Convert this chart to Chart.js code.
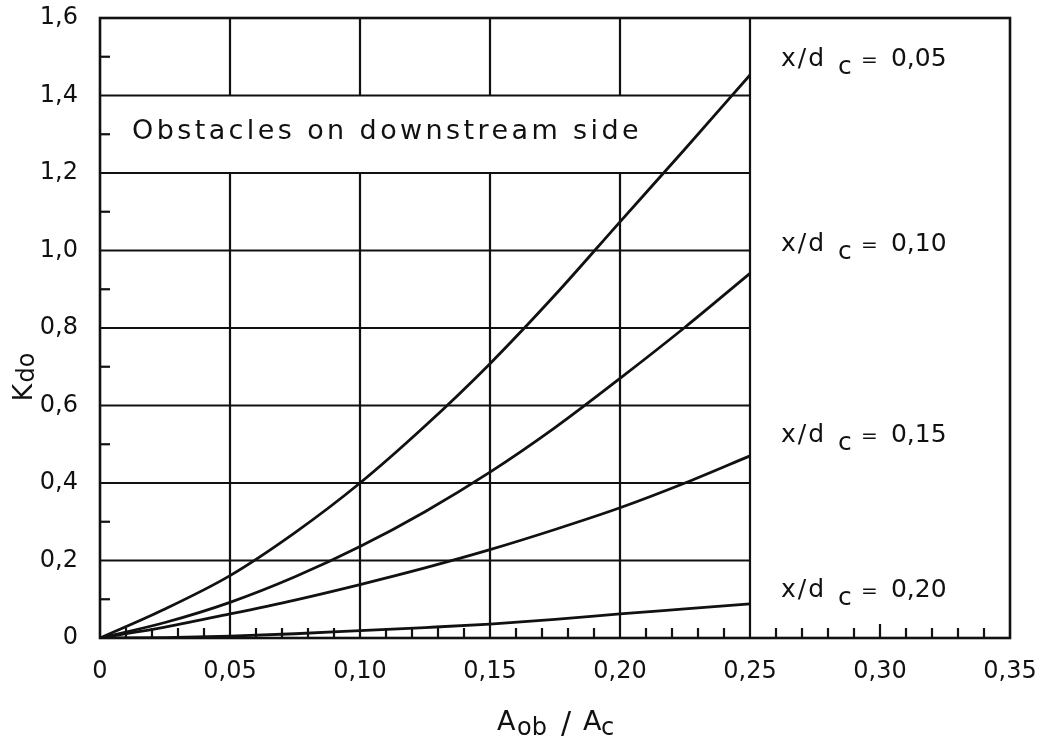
<!DOCTYPE html>
<html>
<head>
<meta charset="utf-8">
<title>Kdo</title>
<script src="https://cdn.jsdelivr.net/npm/chart.js"></script>
<style>
    html, body { margin: 0; padding: 0; background: #fff; }
    canvas { display: block; }
</style>
</head>
<body>
<canvas id="chart" width="1041" height="742"></canvas>
<script>
// Data
const ratio = [0, 0.025, 0.05, 0.075, 0.10, 0.125, 0.15, 0.175, 0.20, 0.225, 0.25];
const kdo_005 = [0, 0.075, 0.161, 0.272, 0.400, 0.547, 0.708, 0.885, 1.074, 1.262, 1.453];
const kdo_010 = [0, 0.040, 0.092, 0.158, 0.236, 0.326, 0.428, 0.543, 0.670, 0.802, 0.941];
const kdo_015 = [0, 0.028, 0.062, 0.098, 0.138, 0.181, 0.228, 0.280, 0.336, 0.400, 0.470];
const kdo_020 = [0, 0.001, 0.005, 0.011, 0.019, 0.027, 0.036, 0.048, 0.062, 0.075, 0.088];
const series = [kdo_005, kdo_010, kdo_015, kdo_020];
const series_names = ['0,05', '0,10', '0,15', '0,20'];

const x_ticks = [0, 0.05, 0.10, 0.15, 0.20, 0.25, 0.30, 0.35];
const y_ticks = [0, 0.2, 0.4, 0.6, 0.8, 1.0, 1.2, 1.4, 1.6];

// where the curve labels sit (axis units)
const label_x = 0.2619;
const label_y = [1.475, 1.0, 0.505, 0.105];

const ink = '#111';
const font = "'DejaVu Sans', sans-serif";

const fmt = (v, d) => v === 0 ? '0' : v.toFixed(d).replace('.', ',');

function line(ctx, x1, y1, x2, y2) {
    ctx.beginPath();
    ctx.moveTo(x1, y1);
    ctx.lineTo(x2, y2);
    ctx.stroke();
}

// Grid, box and frame
const gridPlugin = {
    id: 'grid',
    beforeDraw(chart) {
        const ctx = chart.ctx;
        ctx.save();
        ctx.fillStyle = '#fff';
        ctx.fillRect(0, 0, chart.width, chart.height);
        ctx.restore();
    },
    beforeDatasetsDraw(chart) {
        const {ctx, chartArea: a, scales: {x, y}} = chart;
        const xEnd = x.getPixelForValue(0.25);
        const boxLow = y.getPixelForValue(1.2);
        const boxHigh = y.getPixelForValue(1.4);
        ctx.save();
        ctx.strokeStyle = ink;
        ctx.lineWidth = 2.2;

        y_ticks.forEach(v => {
            if (v > 0 && v < 1.6) {
                const py = y.getPixelForValue(v);
                line(ctx, a.left, py, xEnd, py);
            }
        });

        x_ticks.forEach(v => {
            if (v > 0 && v < 0.25) {
                const px = x.getPixelForValue(v);
                line(ctx, px, a.bottom, px, boxLow);
                line(ctx, px, boxHigh, px, a.top);
            }
        });
        line(ctx, xEnd, a.bottom, xEnd, a.top);

        // minor ticks on bottom axis
        for (let i = 1; i < 35; i++) {
            if (i % 5 === 0 && i <= 25) continue;
            const px = x.getPixelForValue(i / 100);
            const len = (i === 30) ? 14 : 10;
            line(ctx, px, a.bottom, px, a.bottom - len);
        }
        // minor ticks on left axis
        for (let i = 1; i < 16; i += 2) {
            const py = y.getPixelForValue(i / 10);
            line(ctx, a.left, py, a.left + 10, py);
        }

        ctx.lineWidth = 2.6;
        ctx.strokeRect(a.left, a.top, a.right - a.left, a.bottom - a.top);

        ctx.fillStyle = ink;
        ctx.font = `27px ${font}`;
        ctx.letterSpacing = '3.4px';
        ctx.textBaseline = 'alphabetic';
        ctx.fillText('Obstacles on downstream side', a.left + 32, y.getPixelForValue(1.3) + 5);
        ctx.restore();
    },
    afterDraw(chart) {
        const {ctx, chartArea: a, scales: {x, y}} = chart;
        ctx.save();
        ctx.fillStyle = ink;
        ctx.textBaseline = 'alphabetic';

        // curve labels x/d c = ...
        label_y.forEach((v, i) => {
            const x0 = x.getPixelForValue(label_x);
            const yb = y.getPixelForValue(v);
            ctx.font = `25px ${font}`;
            ctx.letterSpacing = '2px';
            ctx.fillText('x/d', x0, yb);
            ctx.letterSpacing = '0px';
            ctx.fillText('c', x0 + 57, yb + 8);
            ctx.font = `20px ${font}`;
            ctx.fillText('=', x0 + 80, yb);
            ctx.font = `25px ${font}`;
            ctx.fillText(series_names[i], x0 + 110, yb);
        });

        // x axis title A ob / A c
        const cx = (a.left + a.right) / 2 - 58;
        const by = 730;
        ctx.letterSpacing = '0px';
        ctx.font = `27px ${font}`;
        ctx.fillText('A', cx, by);
        ctx.font = `24px ${font}`;
        ctx.fillText('ob', cx + 20, by + 5);
        ctx.font = `30px ${font}`;
        ctx.fillText('/', cx + 64, by + 3);
        ctx.font = `27px ${font}`;
        ctx.fillText('A', cx + 86, by);
        ctx.font = `24px ${font}`;
        ctx.fillText('c', cx + 104, by + 5);

        // y axis title K do
        ctx.translate(32, y.getPixelForValue(0.6) - 4);
        ctx.rotate(-Math.PI / 2);
        ctx.font = `27px ${font}`;
        ctx.fillText('K', 0, 0);
        ctx.font = `24px ${font}`;
        ctx.fillText('do', 19, 2);
        ctx.restore();
    }
};

const datasets = series.map((vals, i) => ({
    label: 'x/dc = ' + series_names[i],
    data: ratio.map((r, j) => ({x: r, y: vals[j]})),
    borderColor: ink,
    borderWidth: 2.8,
    pointRadius: 0,
    fill: false,
    cubicInterpolationMode: 'monotone'
}));

const tickFont = {family: font, size: 24};

new Chart(document.getElementById('chart').getContext('2d'), {
    type: 'line',
    data: {datasets: datasets},
    options: {
        responsive: false,
        animation: false,
        layout: {padding: {top: 18, right: 31, left: 0, bottom: 0}},
        plugins: {
            legend: {display: false},
            tooltip: {enabled: false}
        },
        scales: {
            x: {
                type: 'linear',
                min: 0,
                max: 0.35,
                grid: {display: false, drawTicks: false},
                border: {display: false},
                afterBuildTicks: s => { s.ticks = x_ticks.map(v => ({value: v})); },
                afterFit: s => { s.height = 104; s.paddingLeft = 0; s.paddingRight = 0; },
                ticks: {
                    font: tickFont,
                    color: ink,
                    padding: 19,
                    maxRotation: 0,
                    autoSkip: false,
                    callback: v => fmt(v, 2)
                }
            },
            y: {
                min: 0,
                max: 1.6,
                grid: {display: false, drawTicks: false},
                border: {display: false},
                afterBuildTicks: s => { s.ticks = y_ticks.map(v => ({value: v})); },
                afterFit: s => { s.width = 100; s.paddingTop = 0; s.paddingBottom = 0; },
                ticks: {
                    font: tickFont,
                    color: ink,
                    padding: 22,
                    autoSkip: false,
                    callback: v => fmt(v, 1)
                }
            }
        }
    },
    plugins: [gridPlugin]
});
</script>
</body>
</html>
